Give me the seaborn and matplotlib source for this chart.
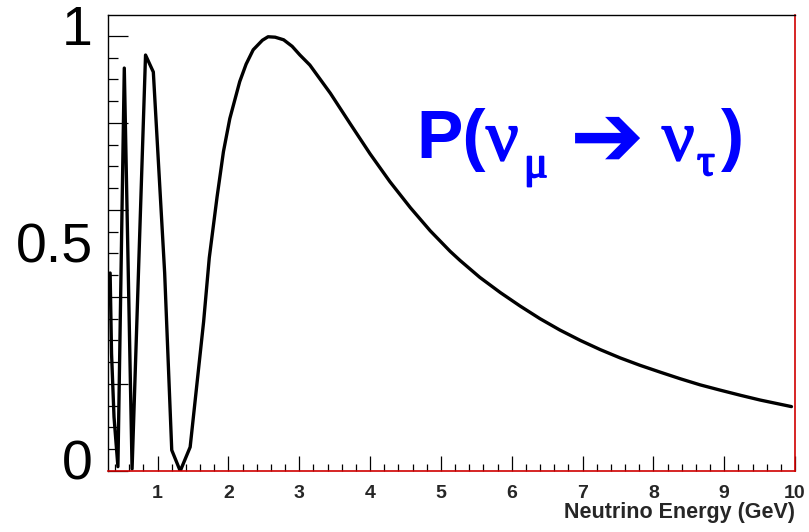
import matplotlib
matplotlib.use("Agg")
import matplotlib.pyplot as plt
import matplotlib.patheffects as pe
from matplotlib.ticker import MultipleLocator, NullFormatter
import seaborn as sns
import pandas as pd

# Oscillation probability (energy in GeV)
energy = [0.33, 0.35, 0.385, 0.44, 0.53, 0.64, 0.83, 0.94, 1.10, 1.20, 1.32,
          1.46, 1.65, 1.73, 1.84, 1.93, 2.02, 2.16, 2.25, 2.35, 2.48, 2.56,
          2.66, 2.78, 2.90, 3.01, 3.15, 3.44, 3.72, 4.00, 4.28, 4.57, 4.85,
          5.13, 5.27, 5.55, 5.84, 6.12, 6.40, 6.68, 6.97, 7.25, 7.53, 7.81,
          8.10, 8.38, 8.66, 8.94, 9.23, 9.51, 9.95]
prob = [0.455, 0.27, 0.124, 0.01, 0.926, 0.005, 0.956, 0.917, 0.455, 0.048, 0.0,
        0.055, 0.343, 0.49, 0.63, 0.734, 0.81, 0.895, 0.935, 0.968, 0.99, 0.998,
        0.997, 0.991, 0.976, 0.956, 0.933, 0.868, 0.798, 0.729, 0.665, 0.605, 0.552,
        0.505, 0.484, 0.445, 0.410, 0.379, 0.350, 0.324, 0.300, 0.279, 0.260, 0.243,
        0.227, 0.212, 0.198, 0.186, 0.174, 0.163, 0.148]

xticks = [1, 2, 3, 4, 5, 6, 7, 8, 9, 10]
ylabels = {1.0: "1", 0.5: "0.5", 0.0: "0"}
xlabel = "Neutrino Energy (GeV)"

sns.set_style("ticks")
plt.rcParams["font.family"] = ["Liberation Sans", "DejaVu Sans"]

W, H = 809, 532
fig = plt.figure(figsize=(W / 100, H / 100), dpi=100)
ax = fig.add_axes([108 / W, 1 - 471 / H, (795 - 108) / W, (471 - 15) / H])

df = pd.DataFrame({"E": energy, "P": prob})
sns.lineplot(data=df, x="E", y="P", ax=ax, color="black", linewidth=2.4,
             sort=False, estimator=None)

ax.set_xlim(0.3, 10)
ax.set_ylim(0, 1.048)

# spines
for s in ("top", "left"):
    ax.spines[s].set_color("black")
    ax.spines[s].set_linewidth(1.0)
for s in ("bottom", "right"):
    ax.spines[s].set_color("#d00000")
    ax.spines[s].set_linewidth(1.2)

# x axis ticks
ax.set_xticks(xticks)
ax.set_xticklabels([str(t) for t in xticks], fontweight="bold", fontsize=14)
ax.xaxis.set_minor_locator(MultipleLocator(0.2))
ax.tick_params(axis="x", which="major", direction="in", length=10.8, width=0.9,
               color="black", pad=10)
ax.tick_params(axis="x", which="minor", direction="in", length=5, width=0.9,
               color="black")

# y axis ticks (labels drawn as large text)
ax.yaxis.set_major_locator(MultipleLocator(0.2))
ax.yaxis.set_minor_locator(MultipleLocator(0.05))
ax.yaxis.set_major_formatter(NullFormatter())
ax.tick_params(axis="y", which="major", direction="in", length=14.4, width=0.9,
               color="black")
ax.tick_params(axis="y", which="minor", direction="in", length=7.2, width=0.9,
               color="black")
ax.tick_params(top=False, right=False, which="both")

for val, lab in ylabels.items():
    ax.text(-0.022, val + 0.012, lab, transform=ax.get_yaxis_transform(),
            ha="right", va="center", fontsize=40, color="black")

ax.set_xlabel(xlabel, loc="right", fontweight="bold", fontsize=15.5, labelpad=0)
ax.set_ylabel("")


def ftext(x, y, s, **kw):
    fig.text(x / W, 1 - y / H, s, **kw)


blue = "#0000ff"
thick = [pe.withStroke(linewidth=1.3, foreground=blue)]
ftext(416, 158, "P(", fontsize=50, fontweight="bold", color=blue,
      ha="left", va="baseline")
ftext(486, 160, "\u03bd", fontsize=52, color=blue, family=["Liberation Serif"],
      ha="left", va="baseline", path_effects=thick)
ftext(524, 177, "\u03bc", fontsize=32, color=blue, family=["Liberation Serif"],
      ha="left", va="baseline", path_effects=thick)
ftext(607, 141, "\u2794", fontsize=64, color=blue, family=["DejaVu Sans"],
      fontweight="bold", ha="center", va="center")
ftext(662, 160, "\u03bd", fontsize=52, color=blue, family=["Liberation Serif"],
      ha="left", va="baseline", path_effects=thick)
ftext(697, 175, "\u03c4", fontsize=32, color=blue, family=["Liberation Serif"],
      ha="left", va="baseline", path_effects=thick)
ftext(721, 158, ")", fontsize=50, fontweight="bold", color=blue,
      ha="left", va="baseline")

fig.savefig("out.png", dpi=100)
